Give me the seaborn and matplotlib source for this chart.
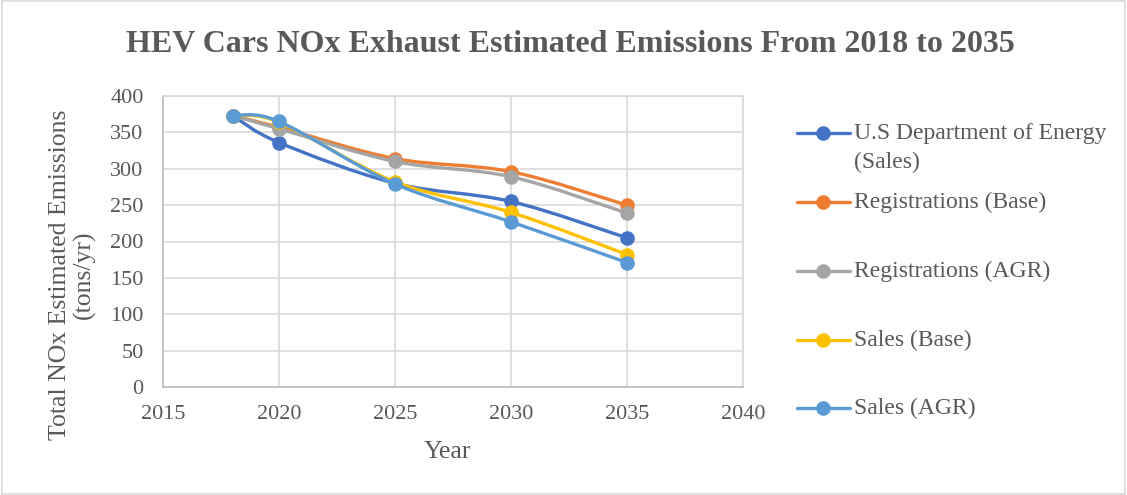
import numpy as np
import pandas as pd
import matplotlib
matplotlib.use("Agg")
import matplotlib.pyplot as plt
import seaborn as sns
from matplotlib.path import Path
from matplotlib.patches import PathPatch, Rectangle
from matplotlib.lines import Line2D

# ---- data -------------------------------------------------------------
years = [2018, 2020, 2025, 2030, 2035]
doe_sales = [373, 336, 280, 255, 205]
reg_base = [373, 357, 314, 296, 250]
reg_agr = [373, 355, 310, 289, 239]
sales_base = [373, 364, 282, 240, 182]
sales_agr = [373, 365, 279, 227, 171]

series_names = ["U.S Department of Energy (Sales)", "Registrations (Base)",
                "Registrations (AGR)", "Sales (Base)", "Sales (AGR)"]
series_values = [doe_sales, reg_base, reg_agr, sales_base, sales_agr]
colors = ["#4472C4", "#ED7D31", "#A5A5A5", "#FFC000", "#5B9BD5"]

x_ticks = [2015, 2020, 2025, 2030, 2035, 2040]
y_ticks = [0, 50, 100, 150, 200, 250, 300, 350, 400]

# ---- style ------------------------------------------------------------
sns.set_theme(style="whitegrid")
SERIF = ["Liberation Serif", "DejaVu Serif"]
plt.rcParams["font.family"] = SERIF
plt.rcParams["font.serif"] = SERIF
TXT = "#595959"

W, H = 1127, 495
fig = plt.figure(figsize=(W / 100, H / 100), dpi=100)
fig.patch.set_facecolor("white")


def fx(px):
    return px / W


def fy(py):
    return 1 - py / H


ax = fig.add_axes([fx(163), fy(387), fx(743) - fx(163), fy(96) - fy(387)])
ax.set_facecolor("white")

df = pd.DataFrame({
    "Year": np.tile(years, len(series_names)),
    "Emissions": np.concatenate(series_values),
    "Series": np.repeat(series_names, len(years)),
})


def smooth_path(xs, ys):
    """Cubic Bezier path through the points (Catmull-Rom style tangents)."""
    pts = np.column_stack([xs, ys]).astype(float)
    n = len(pts)
    verts = [pts[0]]
    codes = [Path.MOVETO]
    for i in range(n - 1):
        p0 = pts[i - 1] if i > 0 else pts[i]
        p1 = pts[i]
        p2 = pts[i + 1]
        p3 = pts[i + 2] if i + 2 < n else pts[i + 1]
        c1 = p1 + (p2 - p0) / 6.0
        c2 = p2 - (p3 - p1) / 6.0
        verts += [c1, c2, p2]
        codes += [Path.CURVE4] * 3
    return Path(verts, codes)


for k, (name, col) in enumerate(zip(series_names, colors)):
    sub = df[df["Series"] == name]
    patch = PathPatch(smooth_path(sub["Year"], sub["Emissions"]),
                      facecolor="none", edgecolor=col, lw=2.4,
                      capstyle="round", joinstyle="round", zorder=3 + 2 * k)
    ax.add_patch(patch)
    sns.scatterplot(data=sub, x="Year", y="Emissions", color=col, s=110,
                    linewidth=0, ax=ax, zorder=4 + 2 * k, legend=False)

ax.set_xlim(2015, 2040)
ax.set_ylim(0, 400)
ax.set_xticks(x_ticks)
ax.set_yticks(y_ticks)
ax.set_xticklabels([str(v) for v in x_ticks], fontfamily=SERIF, fontsize=16, color=TXT)
ax.set_yticklabels([str(v) for v in y_ticks], fontfamily=SERIF, fontsize=16, color=TXT)
ax.set_xlabel("")
ax.set_ylabel("")
ax.grid(True, color="#D9D9D9", lw=1.2)
ax.tick_params(axis="both", length=0)
ax.tick_params(axis="y", pad=14)
ax.tick_params(axis="x", pad=13)
for side, sp in ax.spines.items():
    sp.set_visible(True)
    sp.set_color("#D9D9D9")
    sp.set_linewidth(1.2)
ax.spines["left"].set_color("#BFBFBF")
ax.spines["bottom"].set_color("#BFBFBF")

# ---- texts ------------------------------------------------------------
fig.text(fx(570), fy(45), "HEV Cars NOx Exhaust Estimated Emissions From 2018 to 2035",
         ha="center", va="center", fontsize=23, fontweight="bold", color=TXT,
         fontfamily=SERIF)
fig.text(fx(447), fy(452), "Year", ha="center", va="center", fontsize=18.5,
         color=TXT, fontfamily=SERIF)
fig.text(fx(72), fy(275), "Total NOx Estimated Emissions\n(tons/yr)",
         ha="center", va="center", rotation=90, fontsize=18.5, color=TXT,
         multialignment="center", linespacing=1.1, fontfamily=SERIF)

# ---- legend -----------------------------------------------------------
leg_y = [133, 202, 271, 340, 408]
for name, col, py in zip(series_names, colors, leg_y):
    fig.add_artist(Line2D([fx(797), fx(850)], [fy(py), fy(py)], color=col, lw=2.4,
                          transform=fig.transFigure, solid_capstyle="round"))
    fig.add_artist(Line2D([fx(823)], [fy(py)], marker="o", markersize=10.5,
                          markeredgewidth=0, color=col, transform=fig.transFigure))
    if name.startswith("U.S"):
        fig.text(fx(854), fy(py), "U.S Department of Energy", ha="left",
                 va="center", fontsize=17, color=TXT, fontfamily=SERIF)
        fig.text(fx(854), fy(py + 29), "(Sales)", ha="left",
                 va="center", fontsize=17, color=TXT, fontfamily=SERIF)
    else:
        fig.text(fx(854), fy(py), name, ha="left", va="center", fontsize=17,
                 color=TXT, fontfamily=SERIF)

# chart border
fig.add_artist(Rectangle((0.002, 0.003), 0.996, 0.994, transform=fig.transFigure,
                         fill=False, edgecolor="#D9D9D9", lw=1.2))

fig.savefig("out.png", dpi=100, facecolor="white")
